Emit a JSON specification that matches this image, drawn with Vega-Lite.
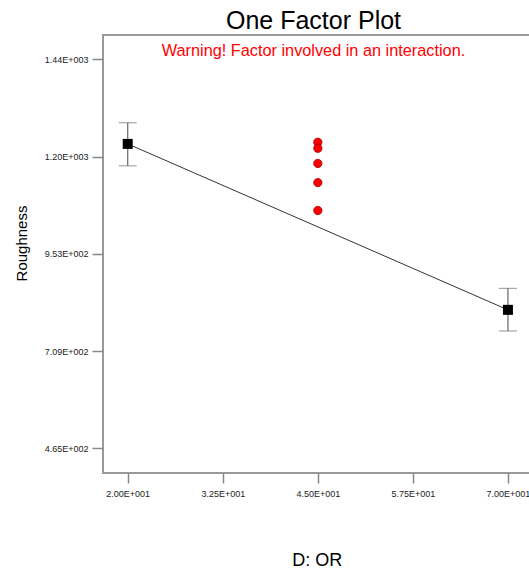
{
  "$schema": "https://vega.github.io/schema/vega-lite/v6.json",
  "autosize": {"type": "none"},
  "padding": {"left": 103, "top": 35, "right": 0, "bottom": 100},
  "width": 427,
  "height": 438,
  "background": "white",
  "config": {
    "font": "Liberation Sans",
    "view": {"stroke": "#999999", "strokeWidth": 2},
    "axis": {"grid": false, "domain": false, "tickColor": "#888888", "tickWidth": 1.5, "labelFont": "Liberation Sans", "labelFontSize": 9, "labelColor": "#222222", "titleFont": "Liberation Sans", "titleFontWeight": "normal", "titleColor": "black"}
  },
  "title": {
    "text": "One Factor Plot",
    "subtitle": "Warning! Factor involved in an interaction.",
    "fontSize": 25,
    "fontWeight": "normal",
    "color": "black",
    "subtitleFontSize": 16.3,
    "subtitleColor": "#ff0000",
    "subtitleFont": "Liberation Sans",
    "subtitlePadding": 9,
    "anchor": "middle",
    "dx": -3,
    "offset": -24
  },
  "datasets": {
    "means": [
      {"x": 20, "y": 1228, "lo": 1173, "hi": 1281},
      {"x": 70, "y": 812, "lo": 759, "hi": 866}
    ],
    "obs": [
      {"x": 45, "y": 1232},
      {"x": 45, "y": 1217},
      {"x": 45, "y": 1179},
      {"x": 45, "y": 1131},
      {"x": 45, "y": 1061}
    ]
  },
  "layer": [
    {
      "data": {"name": "means"},
      "mark": {"type": "errorbar", "ticks": {"size": 18, "color": "#666666", "strokeWidth": 1.2}, "rule": {"color": "#666666", "strokeWidth": 1.2}},
      "encoding": {
        "x": {"field": "x", "type": "quantitative", "scale": {"domain": [16.75, 72.9], "nice": false, "zero": false},
          "axis": {"values": [20, 32.5, 45, 57.5, 70], "tickSize": 10, "labelPadding": 6, "title": "D: OR", "titleFontSize": 18, "titleX": 213.7, "titleY": 87, "titleBaseline": "middle", "titleAnchor": null,
            "labelExpr": "format(datum.value/pow(10,floor(log(datum.value)/LN10+1e-9))+1e-9,'.2f') + 'E+00' + floor(log(datum.value)/LN10+1e-9)"}},
        "y": {"field": "lo", "type": "quantitative", "scale": {"domain": [403, 1501], "nice": false, "zero": false},
          "axis": {"values": [465, 708.75, 952.5, 1196.25, 1440], "tickSize": 11, "labelPadding": 4, "title": "Roughness", "titleFontSize": 15, "titleAngle": -90, "titleX": -82, "titleY": 208, "titleBaseline": "middle", "titleAnchor": null,
            "labelExpr": "format(datum.value/pow(10,floor(log(datum.value)/LN10+1e-9))+1e-9,'.2f') + 'E+00' + floor(log(datum.value)/LN10+1e-9)"}},
        "y2": {"field": "hi"}
      }
    },
    {
      "data": {"name": "means"},
      "mark": {"type": "line", "color": "#333333", "strokeWidth": 1},
      "encoding": {
        "x": {"field": "x", "type": "quantitative"},
        "y": {"field": "y", "type": "quantitative"}
      }
    },
    {
      "data": {"name": "means"},
      "mark": {"type": "square", "color": "black", "filled": true, "size": 100, "opacity": 1},
      "encoding": {
        "x": {"field": "x", "type": "quantitative"},
        "y": {"field": "y", "type": "quantitative"}
      }
    },
    {
      "data": {"name": "obs"},
      "mark": {"type": "circle", "fill": "#ff0000", "stroke": "#880000", "strokeWidth": 0.7, "size": 70, "opacity": 1},
      "encoding": {
        "x": {"field": "x", "type": "quantitative"},
        "y": {"field": "y", "type": "quantitative"}
      }
    }
  ]
}
